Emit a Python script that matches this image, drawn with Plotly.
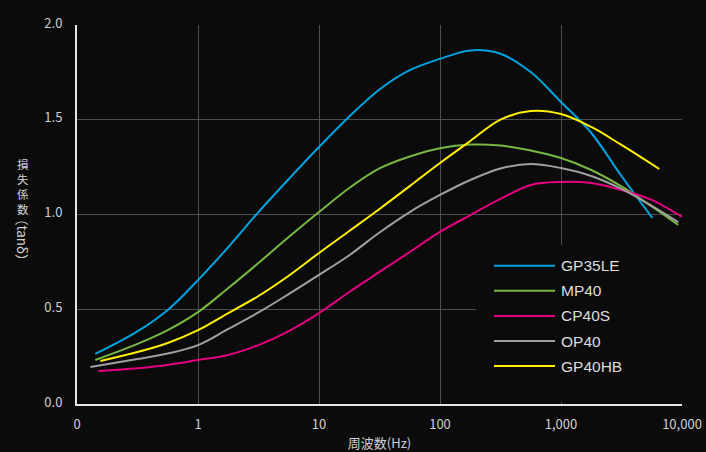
import plotly.graph_objects as go

# ---------------- data ----------------
SERIES_NAMES = ["GP35LE", "MP40", "CP40S", "OP40", "GP40HB"]
SERIES_COLORS = ["#00a3e0", "#76b843", "#e4007f", "#a0a0a0", "#fff000"]

FREQ_GP35LE = [0.1416, 0.316, 0.562, 1, 1.78, 3.16, 5.62, 10, 17.8, 31.6, 56.2, 100, 178, 316, 562, 1000, 1780, 3160, 5690]
TAN_GP35LE = [0.264, 0.383, 0.496, 0.654, 0.828, 1.013, 1.187, 1.356, 1.517, 1.660, 1.762, 1.821, 1.866, 1.848, 1.752, 1.594, 1.430, 1.203, 0.982]

FREQ_MP40 = [0.1416, 0.316, 0.562, 1, 1.78, 3.16, 5.62, 10, 17.8, 31.6, 56.2, 100, 178, 316, 562, 1000, 1780, 3160, 5620, 9300]
TAN_MP40 = [0.232, 0.317, 0.390, 0.485, 0.612, 0.744, 0.881, 1.013, 1.140, 1.243, 1.306, 1.350, 1.369, 1.364, 1.338, 1.298, 1.235, 1.148, 1.042, 0.945]

FREQ_CP40S = [0.15, 0.316, 0.562, 1, 1.78, 3.16, 5.62, 10, 17.8, 31.6, 56.2, 100, 178, 316, 562, 1000, 1780, 3160, 5620, 10000]
TAN_CP40S = [0.174, 0.189, 0.206, 0.232, 0.259, 0.311, 0.385, 0.480, 0.591, 0.697, 0.802, 0.908, 0.997, 1.082, 1.156, 1.172, 1.166, 1.129, 1.077, 0.987]

FREQ_OP40 = [0.129, 0.316, 0.562, 1, 1.78, 3.16, 5.62, 10, 17.8, 31.6, 56.2, 100, 178, 316, 562, 1000, 1780, 3160, 5620, 9300]
TAN_OP40 = [0.195, 0.237, 0.266, 0.311, 0.396, 0.483, 0.580, 0.681, 0.785, 0.905, 1.013, 1.103, 1.182, 1.243, 1.266, 1.245, 1.203, 1.135, 1.046, 0.960]

FREQ_GP40HB = [0.156, 0.316, 0.562, 1, 1.78, 3.16, 5.62, 10, 17.8, 31.6, 56.2, 100, 178, 316, 562, 1000, 1780, 3160, 6490]
TAN_GP40HB = [0.227, 0.274, 0.322, 0.390, 0.480, 0.570, 0.677, 0.797, 0.913, 1.029, 1.150, 1.272, 1.388, 1.501, 1.546, 1.530, 1.462, 1.367, 1.240]

X_TICK_VALUES = [0.1, 1, 10, 100, 1000, 10000]
X_TICK_LABELS = ["0", "1", "10", "100", "1,000", "10,000"]
X_GRID_VALUES = [1, 10, 100, 1000]
Y_TICK_VALUES = [0, 0.5, 1.0, 1.5, 2.0]
Y_TICK_LABELS = ["0.0", "0.5", "1.0", "1.5", "2.0"]
Y_GRID_VALUES = [0.5, 1.0, 1.5]

X_TITLE = "周波数(Hz)"
Y_TITLE_CHARS = ["損", "失", "係", "数"]
Y_TITLE_ROTATED = "（tanδ）"

SERIES_X = [FREQ_GP35LE, FREQ_MP40, FREQ_CP40S, FREQ_OP40, FREQ_GP40HB]
SERIES_Y = [TAN_GP35LE, TAN_MP40, TAN_CP40S, TAN_OP40, TAN_GP40HB]

# ---------------- figure ----------------
W, H = 706, 452
ML, MR, MT, MB = 77, 24, 25, 48
PW, PH = W - ML - MR, H - MT - MB
BG = "#0b0b0b"
TXT = "#d0d0d0"
GRID = "#4d4d4d"


def px_x(p):
    return (p - ML) / PW


def px_y(p):
    return (H - MB - p) / PH


fig = go.Figure()
for name, color, xs, ys in zip(SERIES_NAMES, SERIES_COLORS, SERIES_X, SERIES_Y):
    fig.add_trace(go.Scatter(
        x=xs, y=ys, name=name, mode="lines",
        line=dict(color=color, width=2, shape="spline", smoothing=1.0),
        hoverinfo="x+y+name",
    ))

fig.update_layout(
    width=W, height=H,
    margin=dict(l=ML, r=MR, t=MT, b=MB, autoexpand=False),
    paper_bgcolor=BG, plot_bgcolor="rgba(0,0,0,0)",
    showlegend=False,
    font=dict(family="Noto Sans CJK JP", color=TXT, size=13),
)

fig.update_xaxes(
    type="log", range=[-1, 4], automargin=False,
    tickmode="array", tickvals=X_TICK_VALUES, ticktext=X_TICK_LABELS,
    showgrid=False, zeroline=False,
    showline=True, linecolor="#e6e6e6", linewidth=2,
    ticks="", ticklabelstandoff=7,
    tickfont=dict(size=13, color=TXT),
    minor=dict(tickmode="array", tickvals=X_GRID_VALUES, showgrid=True,
               gridcolor=GRID, gridwidth=1, ticks=""),
    title=dict(text=X_TITLE, font=dict(size=13, color=TXT), standoff=9),
)
fig.update_yaxes(
    range=[0, 2], automargin=False,
    tickmode="array", tickvals=Y_TICK_VALUES, ticktext=Y_TICK_LABELS,
    showgrid=False, zeroline=False,
    showline=True, linecolor="#e6e6e6", linewidth=2,
    ticks="", ticklabelstandoff=10, ticklabelshift=-2,
    tickfont=dict(size=13, color=TXT),
    minor=dict(tickmode="array", tickvals=Y_GRID_VALUES, showgrid=True,
               gridcolor=GRID, gridwidth=1, ticks=""),
)

# y-axis title in vertical writing
char_y = [163.5, 178.5, 193.5, 208.5]
for ch, cy in zip(Y_TITLE_CHARS, char_y):
    fig.add_annotation(text=ch, xref="paper", yref="paper", x=px_x(23), y=px_y(cy),
                       showarrow=False, font=dict(size=11.5, color=TXT),
                       xanchor="center", yanchor="middle", borderpad=0)
fig.add_annotation(text=Y_TITLE_ROTATED, xref="paper", yref="paper", x=px_x(23), y=px_y(240),
                   showarrow=False, textangle=90, font=dict(size=13.5, color=TXT),
                   xanchor="center", yanchor="middle")

# legend box (covers grid lines like the reference)
fig.add_shape(type="rect", xref="paper", yref="paper",
              x0=px_x(476), x1=px_x(704), y0=px_y(402), y1=px_y(245),
              fillcolor=BG, line=dict(width=0), layer="above")
row0, row_step = 265.7, 25.1
for i, (name, color) in enumerate(zip(SERIES_NAMES, SERIES_COLORS)):
    ry = row0 + i * row_step
    fig.add_shape(type="line", xref="paper", yref="paper",
                  x0=px_x(494), x1=px_x(555), y0=px_y(ry), y1=px_y(ry),
                  line=dict(color=color, width=2), layer="above")
    fig.add_annotation(text=name, xref="paper", yref="paper", x=px_x(559), y=px_y(ry),
                       showarrow=False, xanchor="left", yanchor="middle",
                       font=dict(family="Liberation Sans", size=15.5, color="#dddddd"))

fig.write_html(
    "out.html",
    config={"displayModeBar": False},
    post_script="document.body.style.margin='0px';document.body.style.background='%s';" % BG,
)
